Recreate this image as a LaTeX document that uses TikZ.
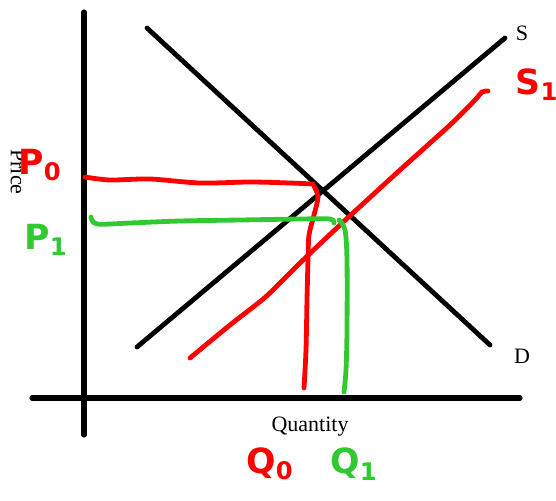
\documentclass[tikz,border=0pt]{standalone}
\usepackage{fontspec}
\setmainfont{Liberation Serif}
\newfontfamily\handfont{DejaVu Sans}
\definecolor{pengreen}{RGB}{50,200,50}
\definecolor{penred}{RGB}{255,0,0}
\begin{document}
\begin{tikzpicture}[x=0.75pt,y=-0.75pt,
  axis/.style={line width=3.8pt,line cap=round,black},
  curve/.style={line width=3.6pt,line cap=round,black},
  redpen/.style={line width=3.6pt,line cap=round,line join=round,penred},
  greenpen/.style={line width=3.6pt,line cap=round,line join=round,pengreen},
  lbl/.style={font=\fontsize{16.5}{18}\selectfont},
  hand/.style={font=\handfont\bfseries\fontsize{26}{28}\selectfont}]
\useasboundingbox (0,0) rectangle (556,500);
% axes
\coordinate (ytop) at (84,12);
\coordinate (ybot) at (84,435);
\coordinate (xl) at (32,398);
\coordinate (xr) at (520,398);
\draw[axis] (ytop) -- (ybot);
\draw[axis] (xl) -- (xr);
% S and D
\coordinate (s0) at (137,347);
\coordinate (s1) at (505,38);
\coordinate (d0) at (147,28);
\coordinate (d1) at (490,345);
\draw[curve] (s0) -- (s1);
\draw[curve] (d0) -- (d1);
\node[lbl] (S) at (522,33) {S};
\node[lbl] (D) at (522,356) {D};
\node[lbl,rotate=-90] (price) at (18,172) {Price};
\node[lbl] (qty) at (310,427) {Quantity};
% S1 red
\draw[redpen] plot[smooth] coordinates {(190,358) (230,325) (262,300) (276,287) (300,263) (340,225) (400,170) (450,125) (475,100) (482,92) (488,91)};
% P0 red lines
\draw[redpen] plot[smooth] coordinates {(85,177) (110,180) (150,179) (200,183) (250,182) (290,183) (313,184)};
\draw[redpen] plot[smooth] coordinates {(314,186) (318,197) (314,215) (309,235) (308,260) (307,300) (306,350) (304,388)};
% P1 green lines
\draw[greenpen] plot[smooth] coordinates {(91,217) (97,224) (130,223) (180,221) (240,220) (300,219) (330,219) (334,223)};
\draw[greenpen] plot[smooth] coordinates {(339,220) (345,230) (347,260) (347,330) (346,370) (344,392)};
% handwritten labels
\node[hand,penred] (P0) at (40,165) {P\textsubscript{0}};
\node[hand,pengreen] (P1) at (46,240) {P\textsubscript{1}};
\node[hand,penred] (S1) at (537,85) {S\textsubscript{1}};
\node[hand,penred] (Q0) at (270,464) {Q\textsubscript{0}};
\node[hand,pengreen] (Q1) at (354,464) {Q\textsubscript{1}};
\end{tikzpicture}
\end{document}
